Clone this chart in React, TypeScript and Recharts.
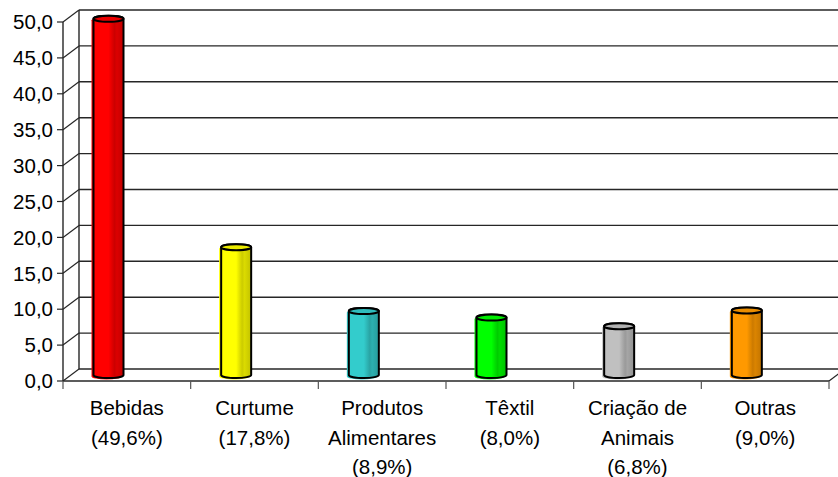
import React from "react";
import { BarChart, Bar, XAxis, YAxis, CartesianGrid } from "recharts";

// share of each activity, in %
const categories = [
  "Bebidas",
  "Curtume",
  "Produtos\nAlimentares",
  "Têxtil",
  "Criação de\nAnimais",
  "Outras",
];
const shares = [49.6, 17.8, 8.9, 8.0, 6.8, 9.0];
const yTicks = [0, 5, 10, 15, 20, 25, 30, 35, 40, 45, 50];
const barColors = ["#ff0000", "#ffff00", "#33cccc", "#00ff00", "#c0c0c0", "#ff9900"];

const W = 838;
const H = 477;
const FONT = '"Liberation Sans", Arial, Helvetica, sans-serif';
const FONT_SIZE = 20.5;
const LINE = "#262626";

// chart frame: plot box is the front face of the 3D box
const MARGIN = { top: 22, right: 9, left: 0, bottom: 6 };
const Y_AXIS_W = 63;
const X_AXIS_H = 90;
const PLOT_LEFT = MARGIN.left + Y_AXIS_W;
const PLOT_BOTTOM = H - MARGIN.bottom - X_AXIS_H;
const BAND = (W - PLOT_LEFT - MARGIN.right) / categories.length;

// depth of the box (back wall offset) and where the cylinders sit in it
const DEPTH_X = 16;
const DEPTH_Y = -12;
const CYL_SHIFT_X = -18.5;
const CYL_SHIFT_Y = -6;

const fmt = (v: number) => v.toFixed(1).replace(".", ",");

const rows = categories.map((name, i) => ({ name, value: shares[i] }));

function shade(hex: string, f: number) {
  const n = parseInt(hex.slice(1), 16);
  const r = Math.round(((n >> 16) & 255) * f);
  const g = Math.round(((n >> 8) & 255) * f);
  const b = Math.round((n & 255) * f);
  return `rgb(${r},${g},${b})`;
}

// horizontal gridline -> back wall line + diagonal on the left side wall
const WallLine = (p: any) => {
  const { x1, x2, y1 } = p;
  const isFloor = Math.abs(y1 - PLOT_BOTTOM) < 0.5;
  return (
    <g key={p.key}>
      <line x1={x1 + DEPTH_X} y1={y1 + DEPTH_Y} x2={x2 + DEPTH_X} y2={y1 + DEPTH_Y} stroke={LINE} strokeWidth={1.4} />
      <line x1={x1} y1={y1} x2={x1 + DEPTH_X} y2={y1 + DEPTH_Y} stroke={LINE} strokeWidth={1.2} />
      {isFloor && (
        <line x1={x2} y1={y1} x2={x2 + DEPTH_X} y2={y1 + DEPTH_Y} stroke={LINE} strokeWidth={1.2} />
      )}
    </g>
  );
};

// left edge of the back wall
const WallEdge = (p: any) => (
  <line
    key={p.key}
    x1={p.x1 + DEPTH_X}
    y1={p.y1 + DEPTH_Y}
    x2={p.x2 + DEPTH_X}
    y2={p.y2 + DEPTH_Y}
    stroke={LINE}
    strokeWidth={1.4}
  />
);

const Cylinder = (props: any) => {
  const { x, y, width, height, index } = props;
  const color = barColors[index % barColors.length];
  const rx = width / 2;
  const ry = 3;
  const cx = x + rx + CYL_SHIFT_X;
  const top = y + CYL_SHIFT_Y;
  const bottom = y + height + CYL_SHIFT_Y;
  const l = cx - rx;
  const r = cx + rx;
  const id = `cyl-grad-${index}`;
  const body = `M${l},${top} L${l},${bottom} A${rx},${ry} 0 0 0 ${r},${bottom} L${r},${top} A${rx},${ry} 0 0 0 ${l},${top} Z`;
  return (
    <g>
      <defs>
        <linearGradient id={id} x1="0" y1="0" x2="1" y2="0">
          <stop offset="0" stopColor={color} />
          <stop offset="0.5" stopColor={color} />
          <stop offset="0.62" stopColor={shade(color, 0.88)} />
          <stop offset="0.7" stopColor={shade(color, 0.8)} />
          <stop offset="0.78" stopColor={shade(color, 0.86)} />
          <stop offset="1" stopColor={shade(color, 0.76)} />
        </linearGradient>
      </defs>
      <path d={body} fill={color} transform="translate(-2,1.5)" />
      <path d={body} fill={`url(#${id})`} stroke="#000" strokeWidth={2} strokeLinejoin="round" />
      <ellipse cx={cx} cy={top} rx={rx} ry={ry} fill={shade(color, 0.92)} stroke="#000" strokeWidth={2} />
    </g>
  );
};

const CategoryTick = (props: any) => {
  const { x, y, payload } = props;
  const i = categories.indexOf(payload.value);
  const half = payload.offset ?? BAND / 2;
  const lines = [...payload.value.split("\n"), `(${fmt(shares[i])}%)`];
  return (
    <g>
      <line x1={x - half} y1={y} x2={x - half} y2={y + 8} stroke="#555" strokeWidth={1.2} />
      {i === categories.length - 1 && (
        <line x1={x + half} y1={y} x2={x + half} y2={y + 8} stroke="#555" strokeWidth={1.2} />
      )}
      <text x={x} textAnchor="middle" fontFamily={FONT} fontSize={FONT_SIZE} fill="#000">
        {lines.map((t: string, k: number) => (
          <tspan key={k} x={x} y={y + 34 + k * 29.5}>
            {t}
          </tspan>
        ))}
      </text>
    </g>
  );
};

export default function App() {
  return (
    <div style={{ position: "absolute", left: 0, top: 0, background: "#fff" }}>
      <BarChart width={W} height={H} data={rows} margin={MARGIN} barSize={30}>
        <CartesianGrid
          horizontal={WallLine}
          vertical={WallEdge}
          verticalPoints={[PLOT_LEFT]}
        />
        <Bar dataKey="value" shape={<Cylinder />} isAnimationActive={false} />
        <XAxis
          dataKey="name"
          interval={0}
          height={X_AXIS_H}
          tickLine={false}
          tickSize={0}
          tickMargin={0}
          axisLine={{ stroke: LINE, strokeWidth: 1.4 }}
          tick={<CategoryTick />}
        />
        <YAxis
          width={Y_AXIS_W}
          domain={[0, 50]}
          ticks={yTicks}
          interval={0}
          tickFormatter={fmt}
          tickSize={6}
          tickMargin={4}
          axisLine={{ stroke: LINE, strokeWidth: 1.4 }}
          tickLine={{ stroke: LINE, strokeWidth: 1.2 }}
          tick={{ fill: "#000", fontSize: FONT_SIZE, fontFamily: FONT }}
        />
      </BarChart>
    </div>
  );
}
